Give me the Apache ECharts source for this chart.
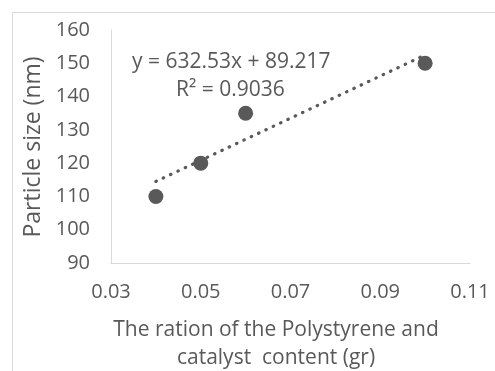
<!DOCTYPE html>
<html><head><meta charset="utf-8">
<script src="https://cdn.jsdelivr.net/npm/echarts@6/dist/echarts.min.js"></script>
<style>html,body{margin:0;padding:0;background:#fff}#c{width:495px;height:371px}</style>
</head><body><div id="c"></div>
<script>
const xValues = [0.04, 0.05, 0.06, 0.10];
const yValues = [110, 120, 135, 150];
const trendX = [0.04, 0.10];
const trendY = [114.5, 152.5];
const xTicks = [0.03, 0.05, 0.07, 0.09, 0.11];
const yTicks = [90, 100, 110, 120, 130, 140, 150, 160];
const eqText = 'y = 632.53x + 89.217';
const r2Text = 'R² = 0.9036';
const xTitle = ['The ration of the Polystyrene and', 'catalyst  content (gr)'];
const yTitle = 'Particle size (nm)';

const FONT = '"Open Sans", sans-serif';
const TXT = '#595959';
const chart = echarts.init(document.getElementById('c'));
chart.setOption({
  animation: false,
  grid: {left: 111, top: 30, right: 25, bottom: 108},
  xAxis: {
    type: 'value', min: 0.03, max: 0.11, interval: 0.02,
    axisLine: {show: true, lineStyle: {color: '#d9d9d9', width: 1}},
    axisTick: {show: false}, splitLine: {show: false},
    axisLabel: {color: TXT, fontFamily: FONT, fontSize: 20, margin: 19,
      formatter: v => xTicks.find(t => Math.abs(t - v) < 1e-9)?.toFixed(2) ?? ''}
  },
  yAxis: {
    type: 'value', min: 90, max: 160, interval: 10,
    axisLine: {show: true, lineStyle: {color: '#d9d9d9', width: 1}},
    axisTick: {show: false}, splitLine: {show: false},
    axisLabel: {color: TXT, fontFamily: FONT, fontSize: 20, margin: 21,
      formatter: v => yTicks.includes(v) ? String(v) : ''}
  },
  series: [
    {type: 'line', data: trendX.map((x, i) => [x, trendY[i]]), symbol: 'none',
     lineStyle: {color: TXT, width: 3.2, type: [0.5, 7.6], cap: 'round'}, z: 1},
    {type: 'scatter', data: xValues.map((x, i) => [x, yValues[i]]), symbolSize: 15,
     itemStyle: {color: TXT, opacity: 1}, z: 2}
  ],
  graphic: [
    {type: 'line', shape: {x1: 12.5, y1: 12.5, x2: 495, y2: 12.5}, style: {stroke: '#d9d9d9', lineWidth: 1}},
    {type: 'line', shape: {x1: 12.5, y1: 12.5, x2: 12.5, y2: 371}, style: {stroke: '#d9d9d9', lineWidth: 1}},
    {type: 'text', x: 132, y: 62, style: {text: eqText, fill: TXT, font: '21px ' + FONT, verticalAlign: 'middle'}},
    {type: 'text', x: 176, y: 90, style: {text: r2Text, fill: TXT, font: '21px ' + FONT, verticalAlign: 'middle'}},
    {type: 'text', x: 276, y: 330, style: {text: xTitle[0], fill: TXT, font: '21px ' + FONT, align: 'center', verticalAlign: 'middle'}},
    {type: 'text', x: 276, y: 358, style: {text: xTitle[1], fill: TXT, font: '21px ' + FONT, align: 'center', verticalAlign: 'middle'}},
    {type: 'text', x: 33, y: 147, rotation: Math.PI / 2, style: {text: yTitle, fill: TXT, font: '23px ' + FONT, align: 'center', verticalAlign: 'middle'}}
  ]
});
</script></body></html>
